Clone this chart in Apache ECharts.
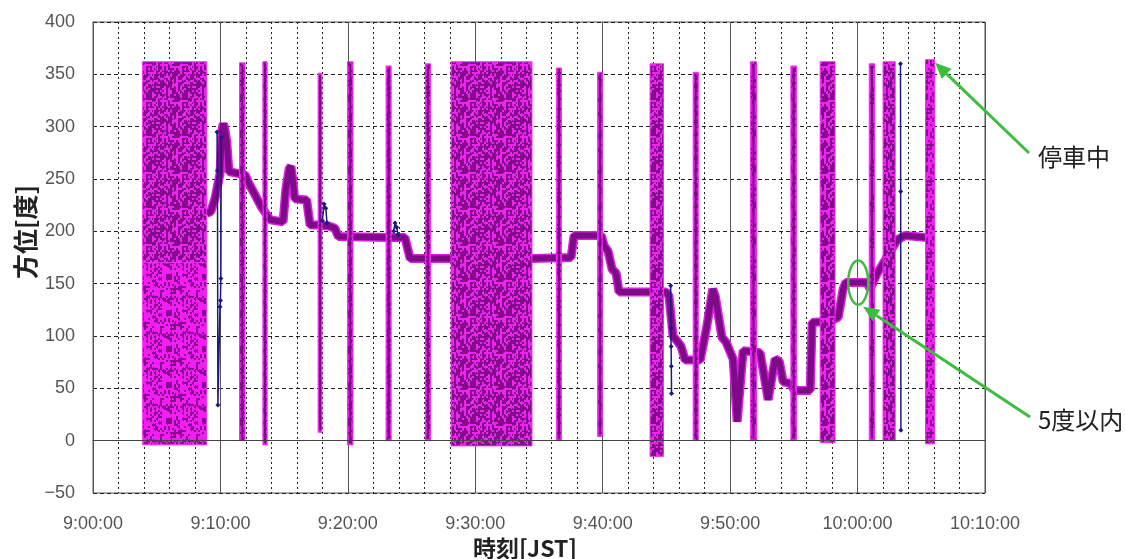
<!DOCTYPE html>
<html><head><meta charset="utf-8">
<script src="https://cdn.jsdelivr.net/npm/echarts@6/dist/echarts.min.js"></script>
<style>html,body{margin:0;padding:0;background:#fff}#c{width:1125px;height:559px}</style>
</head><body><div id="c"></div>
<script>
// ---------- data ----------
const xTickLabels = ['9:00:00','9:10:00','9:20:00','9:30:00','9:40:00','9:50:00','10:00:00','10:10:00'];
const yTickLabels = ['\u221250','0','50','100','150','200','250','300','350','400'];

// moving heading trace (time, degrees)
const traceTime = ['9:08:55','9:09:15','9:09:35','9:09:58','9:10:08','9:10:14','9:10:22','9:10:30','9:10:40','9:11:56',
 '9:12:11','9:13:14','9:13:54','9:14:55','9:15:08','9:15:24','9:15:32','9:15:40','9:15:50','9:16:46',
 '9:17:02','9:17:40','9:18:30','9:18:59','9:19:15','9:23:09','9:24:29','9:24:53','9:28:06','9:34:27',
 '9:37:31','9:37:45','9:39:53','9:40:07','9:40:25','9:40:44','9:41:03','9:41:17','9:44:59','9:45:12',
 '9:45:31','9:45:55','9:46:09','9:46:28','9:47:39','9:48:10','9:48:38','9:48:50','9:49:21','9:49:41',
 '9:50:14','9:50:33','9:51:01','9:52:21','9:52:40','9:52:59','9:53:18','9:53:32','9:53:51','9:54:10',
 '9:54:43','9:55:02','9:56:17','9:56:26','9:57:51','9:58:29','9:58:52','9:59:04','10:00:44','10:00:59',
 '10:01:33','10:02:20','10:03:07','10:03:44','10:05:28'];
const traceDeg = [217,219,232,255,298,303,296,285,257,254,
 247,223,211,209,240,260,262,250,231,230,
 206,206,205,203,195,194,194,174,174,174,
 175,196,196,186,181,164,160,142,142,138,
 100,94,90,77,77,109,145,138,99,94,
 78,18,86,84,62,39,62,78,76,56,
 55,48,48,113,114,118,145,151,151,145,
 160,176,192,196,194];

// stationary periods: heading scatters over the full circle
const noiseStart = ['9:03:54','9:03:54','9:11:30','9:13:20','9:17:40','9:19:58','9:23:00','9:26:05','9:28:06','9:36:22','9:39:36','9:43:43','9:47:06','9:51:36','9:54:46','9:57:04','10:00:55','10:02:00','10:05:20'];
const noiseEnd   = ['9:08:55','9:08:55','9:11:56','9:13:40','9:17:58','9:20:24','9:23:24','9:26:29','9:34:27','9:36:46','9:39:58','9:44:46','9:47:30','9:52:04','9:55:12','9:58:14','10:01:20','10:02:57','10:06:02'];
const noiseLow   = [170,-4,0,-4,8,-4,0,0,-5,0,4,-15,0,0,0,-2,0,0,-3];
const noiseHigh  = [362,170,361,362,351,362,358,360,362,356,352,360,352,362,358,362,360,362,364];
const noiseTone  = [0,1,1,1,1,1,1,1,0,1,1,0,1,1,1,0,1,0,1];

// outlier jumps of the second (navy) series
const navyTime = ['9:09:44','9:09:46','9:09:48','9:09:58','9:10:00','9:10:02','9:10:04', null,
 '9:18:00','9:18:08','9:18:16','9:18:22', null,
 '9:23:36','9:23:42','9:23:50','9:23:56', null,
 '9:45:20','9:45:21','9:45:22','9:45:23','9:45:24', null,
 '10:03:22','10:03:23','10:03:24'];
const navyDeg = [295,258,34,128,134,155,290,null,
 210,226,222,208,null,
 200,208,204,197,null,
 148,108,90,71,45,null,
 360,238,10];

// ---------- helpers ----------
function sec(t){ const p=t.split(':').map(Number); return (p[0]-9)*3600+p[1]*60+p[2]; }

// speckle texture (styling only, deterministic)
function hash(i,j,k){ let h=(i*374761393 + j*668265263 + k*2147483647)|0; h=(h^(h>>>13))*1274126177|0; return ((h^(h>>>16))>>>0)/4294967295; }
function makePattern(bg, fg, density, seed){
  const n=36, c=document.createElement('canvas'); c.width=n; c.height=n;
  const g=c.getContext('2d'); g.fillStyle=bg; g.fillRect(0,0,n,n); g.fillStyle=fg;
  for(let i=0;i<n;i+=2) for(let j=0;j<n;j+=2){
    if(hash(i,j,seed)<density){ g.fillRect(i,j,2,2); if(hash(j,i,seed+7)<0.4) g.fillRect(i+1,j-1,1,4); }
  }
  return c;
}
const purplePat = makePattern('#850a8e','#f024f2',0.34,1);
const pinkPat = makePattern('#f41ef4','#880c90',0.33,2);
const spikePat = makePattern('#e41ee8','#8a0c92',0.3,3);

const traceData = traceTime.map((t,i)=>[sec(t),traceDeg[i]]);
const noiseData = noiseStart.map((t,i)=>[sec(t),sec(noiseEnd[i]),noiseLow[i],noiseHigh[i],noiseTone[i]]);
const navyData = navyTime.map((t,i)=> t===null ? [null,'-'] : [sec(t),navyDeg[i]]);

const chart = echarts.init(document.getElementById('c'));
const cjk = '"Noto Sans CJK JP", sans-serif';
const lat = '"Liberation Sans", Arial, sans-serif';

chart.setOption({
  animation:false,
  backgroundColor:'#fff',
  grid:{left:93, top:22, right:140, bottom:66, show:true, borderColor:'#555', borderWidth:1},
  xAxis:{type:'value', min:0, max:4200, interval:600,
    axisLine:{show:true, lineStyle:{color:'#555'}}, axisTick:{show:false},
    axisLabel:{margin:22, fontFamily:lat, fontSize:18, color:'#555',
      formatter:v=>xTickLabels[Math.round(v/600)]},
    splitLine:{show:true, lineStyle:{color:'#555', width:1, type:'solid'}},
    minorTick:{show:false, splitNumber:5},
    minorSplitLine:{show:true, lineStyle:{color:'#222', width:1, type:[2,3]}}
  },
  yAxis:{type:'value', min:-50, max:400, interval:50,
    axisLine:{show:true, lineStyle:{color:'#555'}}, axisTick:{show:false},
    axisLabel:{margin:18, fontFamily:lat, fontSize:18, color:'#555',
      formatter:v=>yTickLabels[Math.round((v+50)/50)]},
    splitLine:{show:true, lineStyle:{color:'#222', width:1, type:[4,3]}}
  },
  series:[
    {type:'line', data:traceData, showSymbol:false, z:2, silent:true,
     lineStyle:{color:'#d81ee0', width:9}},
    {type:'line', data:traceData, showSymbol:false, z:3, silent:true,
     lineStyle:{color:'#7e0a88', width:6},
     markLine:{silent:true, symbol:'none', label:{show:false},
       lineStyle:{color:'#444', width:1, type:'solid'}, data:[{yAxis:0}]}},
    {type:'custom', data:noiseData, z:4, silent:true,
     encode:{x:[0,1], y:[2,3]},
     renderItem:(params, api)=>{
       const s=api.value(0), e=api.value(1), lo=api.value(2), hi=api.value(3), tone=api.value(4);
       const p1=api.coord([s,hi]), p2=api.coord([e,lo]);
       const w=Math.max(p2[0]-p1[0],3);
       const wide = w>8;
       const img = wide ? (tone ? pinkPat : purplePat) : spikePat;
       const rect = {type:'rect', shape:{x:p1[0], y:p1[1], width:w, height:p2[1]-p1[1]},
         style:{fill:{image:img, repeat:'repeat'}, stroke:'#f52af5', lineWidth:1}};
       if (wide) return rect;
       const cx = p1[0]+w/2;
       return {type:'group', children:[rect,
         {type:'line', shape:{x1:cx, y1:p1[1]+2, x2:cx, y2:p2[1]-2}, style:{stroke:'#7a0a86', lineWidth:2}}]};
     }},
    {type:'line', data:navyData, connectNulls:false, z:5, silent:true,
     symbol:'diamond', symbolSize:5, showSymbol:true,
     itemStyle:{color:'#1a1a80'}, lineStyle:{color:'#1a1a80', width:1.5}}
  ]
});

// annotations anchored to data positions
const tip1 = chart.convertToPixel({gridIndex:0}, [sec('10:06:05'), 361]);
const tip2 = chart.convertToPixel({gridIndex:0}, [sec('10:00:26'), 128]);
const ell = chart.convertToPixel({gridIndex:0}, [sec('10:00:03'), 151]);
const green = '#3dbd3d';
function arrow(from, to){
  const dx=to[0]-from[0], dy=to[1]-from[1], L=Math.hypot(dx,dy), ux=dx/L, uy=dy/L;
  const hl=16, hw=7;
  const bx=to[0]-ux*hl, by=to[1]-uy*hl;
  return [
    {type:'line', shape:{x1:from[0], y1:from[1], x2:bx, y2:by}, style:{stroke:green, lineWidth:3}, z:10},
    {type:'polygon', shape:{points:[to,[bx-uy*hw,by+ux*hw],[bx+uy*hw,by-ux*hw]]}, style:{fill:green}, z:10}
  ];
}
chart.setOption({graphic:[
  ...arrow([1029,153], tip1),
  ...arrow([1030,417], tip2),
  {type:'ellipse', shape:{cx:ell[0], cy:ell[1], rx:10, ry:22}, style:{fill:'none', stroke:green, lineWidth:2.5}, z:10},
  {type:'text', x:1038, y:157, style:{text:'停車中', font:'24px '+cjk, fill:'#222', verticalAlign:'middle'}, z:10},
  {type:'text', x:1038, y:420, style:{text:'5度以内', font:'24px '+cjk, fill:'#222', verticalAlign:'middle'}, z:10},
  {type:'text', x:25, y:232, rotation:Math.PI/2, style:{text:'方位[度]', font:'bold 25px '+cjk, fill:'#222', align:'center', verticalAlign:'middle'}, z:10},
  {type:'text', x:525, y:548, style:{text:'時刻[JST]', font:'bold 23px '+cjk, fill:'#222', align:'center', verticalAlign:'middle'}, z:10}
]});
</script></body></html>
